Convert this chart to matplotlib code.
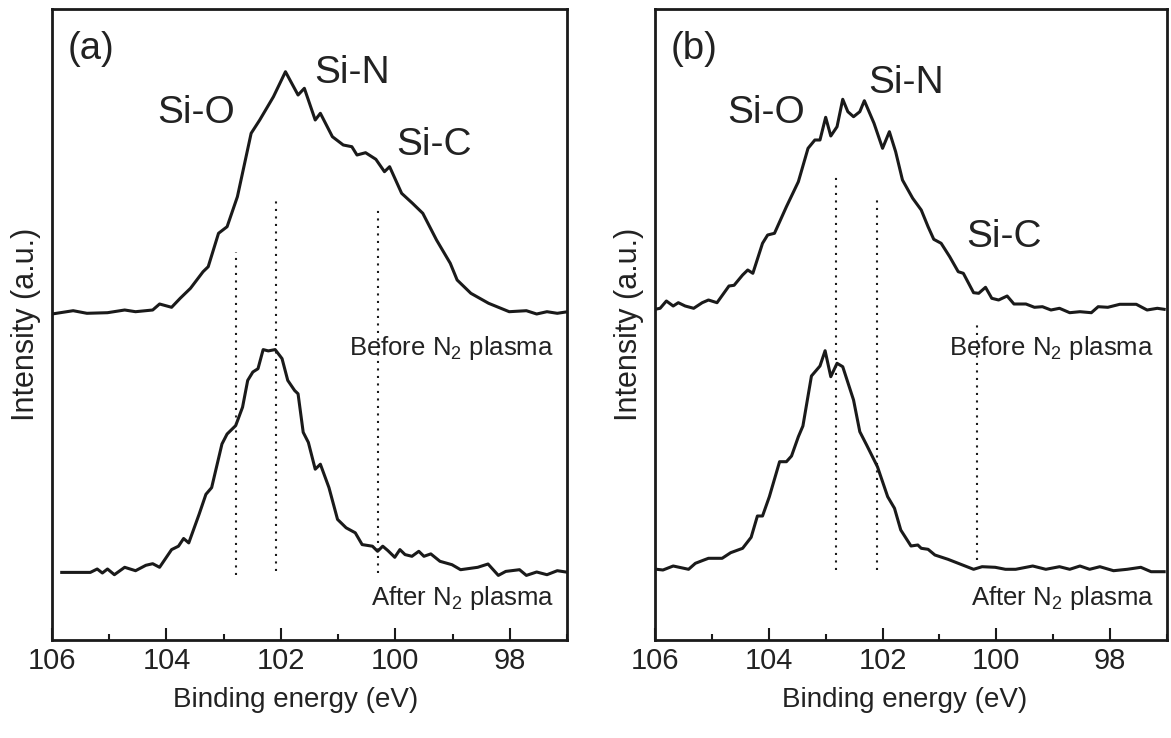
import matplotlib
matplotlib.use("Agg")
import matplotlib.pyplot as plt
from matplotlib.ticker import MultipleLocator

plt.rcParams['font.family'] = ['Liberation Sans', 'DejaVu Sans']
plt.rcParams['mathtext.default'] = 'regular'

# ---- panel (a) ----
a_before_x = [106.00, 105.63, 105.39, 105.03, 104.73, 104.54, 104.24, 104.12, 103.91, 103.76,
              103.58, 103.36, 103.27, 103.09, 102.94, 102.76, 102.52, 102.37, 102.13, 101.92,
              101.70, 101.59, 101.40, 101.31, 101.10, 100.91, 100.76, 100.67, 100.52, 100.34,
              100.19, 100.10, 99.89, 99.70, 99.52, 99.28, 99.04, 98.92, 98.68, 98.37,
              98.01, 97.71, 97.53, 97.35, 97.17, 97.02]
a_before_y = [326.0, 329.3, 326.7, 327.3, 330.0, 328.3, 330.0, 336.0, 332.7, 341.7,
              351.7, 368.3, 373.3, 406.7, 413.3, 443.3, 506.7, 520.0, 543.3, 568.3,
              545.0, 551.7, 520.0, 526.7, 503.3, 495.0, 493.3, 485.0, 487.3, 480.7,
              468.3, 473.3, 446.7, 436.7, 426.7, 400.0, 376.7, 360.0, 346.7, 336.7,
              328.3, 329.3, 326.0, 328.3, 326.7, 328.0]

a_after_x = [105.83, 105.33, 105.21, 105.12, 105.03, 104.91, 104.73, 104.54, 104.36, 104.24,
             104.12, 103.91, 103.79, 103.70, 103.61, 103.43, 103.31, 103.21, 103.03, 102.94,
             102.79, 102.67, 102.58, 102.49, 102.40, 102.31, 102.22, 102.10, 101.98, 101.88,
             101.76, 101.70, 101.61, 101.52, 101.40, 101.31, 101.16, 101.01, 100.86, 100.70,
             100.58, 100.40, 100.31, 100.22, 100.13, 100.01, 99.92, 99.83, 99.71, 99.59,
             99.50, 99.38, 99.22, 99.01, 98.86, 98.56, 98.38, 98.20, 98.07, 97.83,
             97.71, 97.53, 97.35, 97.17, 97.02]
a_after_y = [67.6, 67.6, 71.0, 67.0, 71.0, 65.3, 72.7, 69.3, 74.7, 76.3,
             72.7, 90.4, 93.8, 101.5, 97.1, 125.6, 145.7, 152.4, 196.0, 206.0,
             214.4, 232.8, 259.6, 268.0, 271.3, 290.4, 289.1, 290.4, 281.4, 259.6,
             249.5, 246.2, 207.7, 197.6, 170.8, 175.8, 152.4, 120.6, 112.2, 107.2,
             95.4, 93.8, 88.7, 93.8, 89.4, 82.7, 90.4, 85.4, 83.7, 88.7,
             83.7, 86.1, 78.7, 75.3, 70.3, 72.7, 76.0, 64.6, 68.6, 70.3,
             64.6, 68.0, 65.3, 69.3, 68.0]

# ---- panel (b) ----
b_before_x = [106.00, 105.91, 105.80, 105.68, 105.59, 105.47, 105.32, 105.17, 105.06, 104.91,
              104.70, 104.61, 104.46, 104.37, 104.28, 104.11, 104.02, 103.90, 103.69, 103.48,
              103.31, 103.19, 103.10, 103.00, 102.91, 102.80, 102.70, 102.61, 102.51, 102.40,
              102.32, 102.15, 102.00, 101.88, 101.77, 101.65, 101.47, 101.32, 101.20, 101.10,
              100.97, 100.82, 100.67, 100.58, 100.40, 100.31, 100.19, 100.08, 99.96, 99.81,
              99.69, 99.48, 99.33, 99.19, 99.04, 98.89, 98.71, 98.53, 98.33, 98.21,
              98.04, 97.83, 97.54, 97.35, 97.17, 97.05]
b_before_y = [330.7, 331.7, 339.0, 334.0, 337.3, 334.0, 331.7, 337.3, 340.0, 337.3,
              354.0, 354.7, 365.0, 370.0, 366.7, 396.7, 405.0, 406.7, 433.3, 458.3,
              491.7, 500.0, 500.0, 522.7, 504.0, 513.3, 540.7, 528.3, 523.3, 528.3,
              539.3, 516.7, 491.7, 508.3, 488.3, 460.0, 441.7, 430.0, 413.3, 400.7,
              396.7, 383.3, 368.3, 366.7, 347.3, 346.7, 352.7, 341.7, 340.0, 344.0,
              336.0, 336.0, 332.7, 333.3, 330.0, 331.7, 327.3, 328.3, 327.3, 333.3,
              332.7, 335.7, 335.7, 330.0, 331.7, 330.7]

b_after_x = [105.97, 105.86, 105.68, 105.41, 105.29, 105.14, 105.06, 104.82, 104.67, 104.46,
             104.31, 104.20, 104.11, 103.99, 103.81, 103.69, 103.60, 103.48, 103.40, 103.25,
             103.10, 103.01, 102.91, 102.80, 102.70, 102.51, 102.40, 102.28, 102.09, 101.91,
             101.79, 101.68, 101.50, 101.38, 101.32, 101.20, 101.08, 100.85, 100.67, 100.40,
             100.25, 100.02, 99.84, 99.66, 99.36, 99.13, 98.89, 98.71, 98.53, 98.36,
             98.18, 97.94, 97.70, 97.46, 97.28, 97.05]
b_after_y = [70.7, 70.0, 74.0, 70.7, 76.7, 80.0, 81.7, 81.7, 87.3, 91.7,
             102.7, 124.0, 124.0, 143.3, 178.3, 178.3, 184.0, 203.3, 214.0, 264.0,
             274.0, 289.3, 263.3, 276.7, 273.3, 240.0, 208.3, 195.0, 173.3, 143.3,
             131.7, 110.0, 94.0, 95.0, 91.7, 90.7, 85.0, 80.7, 76.7, 70.7,
             73.3, 72.7, 70.7, 70.7, 74.0, 70.7, 73.3, 70.7, 74.0, 70.7,
             73.3, 69.3, 70.7, 72.7, 68.3, 68.3]

# reference peak positions (eV) and the vertical extent of the dotted markers
bond_labels = ["Si-O", "Si-N", "Si-C"]
a_refs = [102.79, 102.08, 100.31]
a_ref_top = [388, 444, 430]
a_ref_bot = [65, 69, 67]
b_refs = [102.81, 102.09, 100.34]
b_ref_top = [463, 444, 318]
b_ref_bot = [70, 70, 80]

ink = "#1a1a1a"
txt = "#222222"

fig = plt.figure(figsize=(11.71, 7.38), dpi=100)
ax1 = fig.add_axes([52 / 1171, 98 / 738, 515 / 1171, 631 / 738])
ax2 = fig.add_axes([655 / 1171, 98 / 738, 512 / 1171, 631 / 738])

panels = [
    (ax1, a_before_x, a_before_y, a_after_x, a_after_y, a_refs, a_ref_top, a_ref_bot, "(a)",
     [(103.48, 517), (100.76, 557), (99.32, 485)], 0.474),
    (ax2, b_before_x, b_before_y, b_after_x, b_after_y, b_refs, b_ref_top, b_ref_bot, "(b)",
     [(104.05, 517), (101.58, 547), (99.87, 393)], 0.488),
]

for ax, bx, by, afx, afy, refs, rtop, rbot, tag, lbl_pos, xl in panels:
    ax.plot(bx, by, color=ink, lw=2.2)
    ax.plot(afx, afy, color=ink, lw=2.2)
    ax.vlines(refs, rbot, rtop, colors=ink, linestyles=(0, (1, 2.6)), lw=1.5)

    for name, (px, py) in zip(bond_labels, lbl_pos):
        ax.text(px, py, name, fontsize=28, ha="center", va="baseline", color=txt)
    ax.text(105.31, 591, tag, fontsize=27.5, ha="center", va="center", color=txt)
    ax.text(97.23, 285, "Before N$_2$ plasma", fontsize=18.5, ha="right", va="baseline", color=txt)
    ax.text(97.23, 35, "After N$_2$ plasma", fontsize=18.5, ha="right", va="baseline", color=txt)

    ax.set_xlim(106, 97)
    ax.set_ylim(0, 631)
    ax.set_yticks([])
    ax.xaxis.set_major_locator(MultipleLocator(2))
    ax.xaxis.set_minor_locator(MultipleLocator(1))
    ax.tick_params(axis="x", which="major", direction="in", length=8.5, width=1.5,
                   labelsize=21, pad=5, colors=ink, labelcolor=txt)
    ax.tick_params(axis="x", which="minor", direction="in", length=4.5, width=1.5, colors=ink)
    for sp in ax.spines.values():
        sp.set_linewidth(2.0)
        sp.set_color(ink)
    ax.set_xlabel("Binding energy (eV)", fontsize=20, color=txt)
    ax.xaxis.set_label_coords(xl, -0.075)
    ax.set_ylabel("Intensity (a.u.)", fontsize=22, color=txt, labelpad=8)

fig.savefig("out.png", dpi=100, facecolor="white")
